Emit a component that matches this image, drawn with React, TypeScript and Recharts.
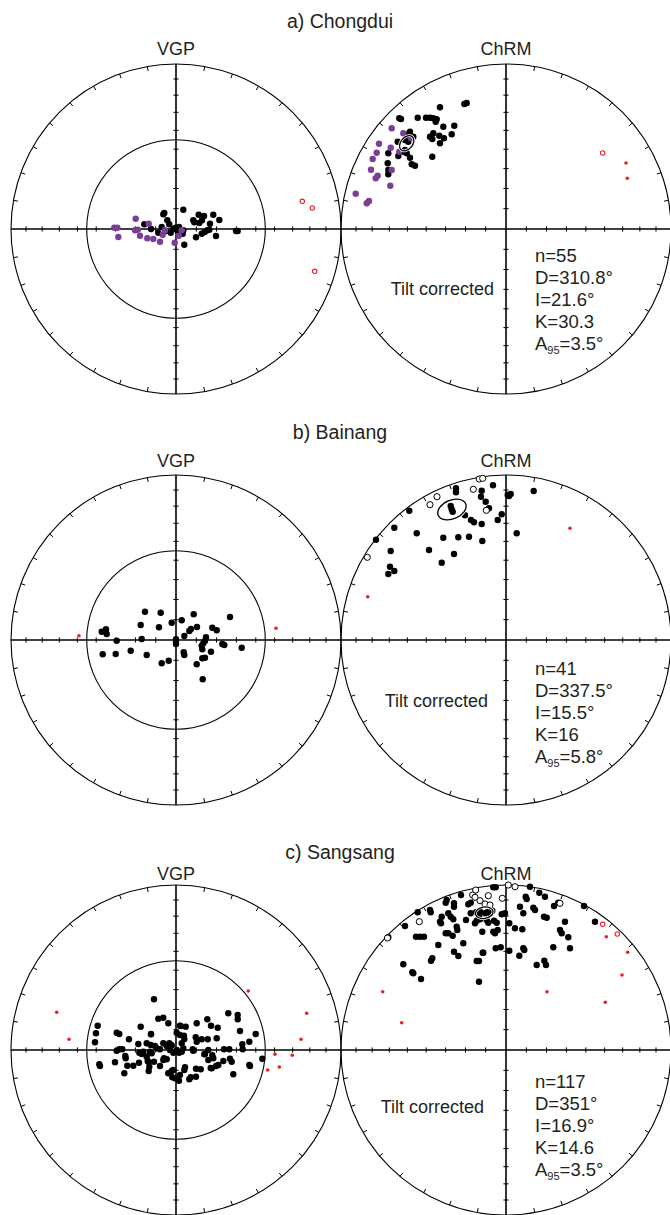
import React from 'react';
import { ScatterChart, Scatter, XAxis, YAxis, ReferenceDot, ReferenceLine } from 'recharts';

type P = [number, number];

// Equal-area net coordinates; net radius R (projection units). ChRM net sits 2R to the right.
const R = 165;
const CHRM_DX = 2 * R;

// ---------------- a) Chongdui ----------------
const vgpA_black: P[] = [
  [-31.7, 4.7], [-25, 0], [-17.7, -3.7], [-12.7, 14.7], [-11.7, 16], [-14.3, 2], [-8.7, 8.7], [-6.7, 4.7],
  [-5.3, -3.7], [-2.7, 0], [-0.3, 1.3], [1.3, -1.3], [4, -3.7], [7.3, -1.3], [7.3, 19.3], [8.3, -15.7],
  [17.3, 8.7], [18.3, 6.7], [22.7, 14.3], [23.3, 6], [28, 13], [26, 8.7], [20, -8.3], [25.7, -4.7],
  [28.7, -3], [31.3, -1.3], [33.3, -0.7], [34, 5.3], [37.3, 14.3], [40, -7], [43.3, 9], [60, -2],
  [61.7, -2], [6.7, -4.7], [-10, -2], [3, 2],
];
const vgpA_purple: P[] = [
  [-61.7, 1.3], [-58.7, 1.3], [-57.7, -8], [-40.3, 10.3], [-41, -1.3], [-38.3, -0.7], [-36, -6.7],
  [-28.7, -9.3], [-27.3, 5.3], [-22.7, -10], [-16, -12.7], [-13.3, -5.7], [-11, -1.3], [-1.3, -13.7],
  [2.7, -6.7], [5.7, -1.3],
];
const vgpA_redOpen: P[] = [[126.3, 27.7], [136.3, 21], [138.7, -42.3]];
const vgpA_redFilled: P[] = [];

const chrmA_black: P[] = [
  [-41.7, 125], [-39.3, 126], [-66, 121.7], [-106.7, 110.7], [-105, 110], [-88.3, 111.3], [-80, 111.3],
  [-76, 111.3], [-72.7, 110.7], [-69.3, 109.7], [-70.3, 107.3], [-62.7, 102.3], [-51.7, 103.3], [-54.3, 94.7],
  [-72.7, 95.7], [-76, 92.3], [-73.7, 90], [-66.7, 93.3], [-62, 90.7], [-66, 85.7], [-96, 97.3], [-97.7, 94.7],
  [-99.3, 92.3], [-101, 89], [-97.7, 87.3], [-92.7, 92.3], [-108.3, 87.3], [-117.7, 75.7], [-107.7, 73],
  [-101, 79], [-99.3, 75.7], [-102.7, 77.3], [-96, 71.3], [-94.3, 64.7], [-91, 63.3], [-73.7, 72.3],
  [-118.3, 65.7], [-117.7, 59], [-117.7, 54.7],
];
const chrmA_purple: P[] = [
  [-114.3, 100.7], [-102.7, 95.7], [-127, 85.3], [-115.3, 81.3], [-129.3, 76.3], [-133.3, 70], [-106.7, 77.3],
  [-135, 59.3], [-128.3, 53.3], [-130.3, 50.7], [-114.3, 59], [-115.7, 43.3], [-150.3, 35.3], [-137, 28],
  [-139.3, 25.7], [-95, 90.7],
];
const chrmA_open: P[] = [];
const chrmA_redOpen: P[] = [[96.7, 76]];
const chrmA_redFilled: P[] = [[120, 66], [121.3, 50.7]];
const statsA_values = [55, 310.8, 21.6, 30.3, 3.5]; // n, D, I, K, A95

// ---------------- b) Bainang ----------------
const vgpB_black: P[] = [
  [-31, 28.3], [-15.3, 27.3], [-74.3, 8.3], [-70, 10.7], [-69.3, 6], [-59.3, -0.7], [-35.3, 15], [-34.3, 1],
  [-17, 12.7], [-4.3, 17.3], [5.7, 19.7], [17.7, 25.7], [0, 0.7], [0, -1.7], [0, -4], [8.3, 4], [13.3, 9],
  [15, 11], [21, 13], [30, 2.7], [29, -1], [27.3, -3.3], [25.7, -5.7], [26.3, -9.3], [36.3, 12.3],
  [40.7, 9.7], [46.3, -4], [48.3, -5], [54, 23], [65.7, -7.7], [-73.3, -14.3], [-60.3, -14], [-45.3, -10.7],
  [-29.3, -15], [-14.3, -23.3], [-7.3, -20.7], [7.7, -12.3], [8.3, -15], [20.7, -24.3], [26.3, -18.3],
  [29, -17.7], [35, -11.7], [26.7, -39.3],
];
const vgpB_purple: P[] = [];
const vgpB_redOpen: P[] = [];
const vgpB_redFilled: P[] = [[-97, 4.3], [100, 11.7]];

const chrmB_black: P[] = [
  [-13, 154.7], [-50, 151.7], [-50, 147.7], [-24.3, 149.3], [-25, 143.3], [-20.3, 138.3], [-17, 131.7],
  [1.7, 145], [4.7, 146], [3, 144], [27.7, 149], [-55.3, 134], [-54.3, 130.7], [-53.3, 128.3], [-41, 124.7],
  [-35, 120], [-32, 117.7], [-24.3, 116], [-8.3, 120], [-4.3, 125.7], [10.7, 106.7], [-96.7, 129.3],
  [-111.7, 112.3], [-89.3, 106.7], [-62.7, 102.3], [-47.7, 102.7], [-37, 103.3], [-23.7, 99], [-130, 100.3],
  [-115.3, 89], [-77, 90], [-52, 86], [-64.3, 77.3], [-116, 73.3], [-117.7, 66], [-111.7, 69],
];
const chrmB_purple: P[] = [];
const chrmB_open: P[] = [
  [-26.7, 161], [-23.3, 161.7], [-32.7, 150.7], [-69, 143.3], [-76, 135.3], [-19.7, 129.7], [-138.7, 82.7],
];
const chrmB_redOpen: P[] = [];
const chrmB_redFilled: P[] = [[-138.3, 43.3], [64, 111.7]];
const statsB_values = [41, 337.5, 15.5, 16, 5.8];

// ---------------- c) Sangsang ----------------
const vgpC_black: P[] = [
  [-22, 50.7], [-17.7, 31.3], [-12.7, 32.3], [-7.7, 26.7], [-78.3, 24.3], [-80, 16.7], [-81, 7.7], [-59.3, 17.3],
  [-56.7, 16], [-47, 10.7], [-35.3, 23.3], [-25, 16], [4, 24.3], [9.7, 23.3], [20.7, 26.7], [31.3, 30.7],
  [35, 24.3], [41.7, 22.3], [52.3, 36.7], [61.7, 35], [61.7, 30.7], [64, 19], [79.7, 16], [73.3, 8.3],
  [66.3, 5.7], [40.7, 11.7], [31.7, 10.7], [25.7, 10.7], [20.7, 8.3], [19.7, 12.7], [4, 15], [8.3, 11],
  [5.7, 6.7], [0.7, 17.3], [-12.7, 6.7], [-9.3, 4], [-6.7, 6.7], [-4.3, 4.7], [-29.3, 6.7], [-25.3, 5],
  [-21, 4], [-19.3, 1.7], [-37.7, 6], [-36.7, -2.7], [-59.3, -0.7], [-56.7, 0.7], [-53.7, 0.7], [-50.7, -6],
  [-50.3, -8.3], [-37, -12.7], [-28.3, -11], [-22, -11.7], [-29.3, -6.7], [-26, -1.7], [-32.7, -1.7],
  [-34.3, -4], [-61, -12.3], [-76.7, -14.3], [-76, -16], [-48.7, -15.7], [-42.7, -15.7], [-51.7, -23.3],
  [-26.7, -16.7], [-27.3, -21], [-16, -16], [-12.7, -10], [-6, 0], [-2.7, -2.7], [0.7, 0], [3, -2.7],
  [5.7, -1.7], [7.3, 1.7], [-4.3, -21], [-2.7, -20], [-7.7, -23.3], [-3.7, -27.3], [-1, -28.3], [3, -30.7],
  [4, -25], [9, -17.3], [8.3, -20], [13.3, -29.3], [14.7, -27.3], [20, -26.7], [20, -18.7], [24.7, -19.3],
  [29, -4], [32.3, -10], [36.3, -5.3], [34.7, -18], [40, -16], [42.3, -15], [32.3, 0], [48, 0.7], [53.3, 0.7],
  [47.3, -11], [54, -8.7], [55.7, -11.7], [57.3, -24.3], [66.7, 0.7], [73.3, -15], [74, -16], [86.3, -8.7],
  [17.3, -0.7], [-16, 0.7], [-9.3, -9.3], [-12, -8.3], [-24.3, -3.3], [-27.7, -11.7], [-25, 15.7], [4.7, 24],
  [8, 14.3], [16.7, 0.7], [28.3, -4.3], [37.3, -8.3], [35.7, -18.3],
];
const vgpC_purple: P[] = [];
const vgpC_redOpen: P[] = [];
const vgpC_redFilled: P[] = [
  [-119.3, 37.7], [-107, 10.7], [72.3, 59], [130.7, 36.7], [125, 10.7], [116.3, -5.3], [99, -4.3],
  [103.3, -17], [91.7, -20],
];

const chrmC_black: P[] = [
  [-12.7, 162.7], [-10.3, 162.7], [24, 163.3], [33.3, 157.3], [19.7, 153.3], [20.7, 151], [39, 153.3],
  [14, 143.3], [17.3, 136.7], [27.3, 142.3], [29, 140], [48, 144], [52.3, 147.3], [38, 133.3], [40.7, 132.3],
  [59, 128.3], [78, 144], [89, 128.3], [54, 120], [55.7, 116.7], [62.3, 112.7], [64, 101.7], [47.3, 102.7],
  [38.3, 89.3], [40, 85], [30.7, 85], [16.3, 120.7], [9, 121.7], [3.3, 126.7], [-4.3, 135.7], [17.3, 101.7],
  [18.3, 100], [3.3, 99.3], [-5.3, 102.7], [-10.3, 101.7], [-45, 155], [-59.3, 150], [-60.3, 147.3],
  [-52, 146.7], [-52, 143.3], [-76, 140], [-75.3, 137.7], [-88.3, 137.7], [-101, 124], [-117.7, 112.7],
  [-90, 113.3], [-86, 113.3], [-82, 113.3], [-66, 128.3], [-65, 126.7], [-64.3, 133.3], [-57.7, 136.7],
  [-55.3, 133.3], [-52.7, 130.7], [-49.3, 123.3], [-57.7, 116.7], [-60.3, 116.7], [-48.7, 120], [-53.3, 114.3],
  [-40, 130], [-35.3, 136.7], [-35.3, 147.3], [-37.7, 145.7], [-31, 126.7], [-29.3, 129.3], [-26, 130.7],
  [-27, 133.3], [-30, 137.7], [-26, 138.3], [-21, 136.7], [-18.7, 137.7], [-16, 136.7], [-13.7, 139.3],
  [-19.3, 130], [-17.7, 127.3], [-12, 129.3], [-9.3, 127.3], [-8.3, 120], [-11, 116.7], [-12.7, 118.3],
  [-23.7, 118.3], [-42.7, 106.7], [-67.7, 105], [-52, 98.3], [-23.3, 97.3], [-73.7, 91.7], [-75, 89.3],
  [-47.7, 94], [-29.3, 89], [-27, 89], [-102.7, 85.7], [-93.7, 77.7], [-92.7, 76.7], [-85, 71], [-27, 68.3],
  [-1, 136.7], [13.3, 94.3], [-22.7, 97.3],
];
const chrmC_purple: P[] = [];
const chrmC_open: P[] = [
  [-33.3, 155], [-30.3, 160], [-31, 152.7], [-26, 149.3], [-17.7, 154.3], [-21, 146], [-16, 145],
  [-3.7, 151.7], [2.3, 165], [9, 163.3], [54, 146.7], [-86.7, 128.3], [-118.5, 112],
];
const chrmC_redOpen: P[] = [[96.7, 125.7], [111.3, 116]];
const chrmC_redFilled: P[] = [
  [-123.3, 58.3], [-104.3, 27.3], [41, 58.3], [100.3, 113.3], [121.7, 97.7], [116, 75], [99.3, 47.7],
];
const statsC_values = [117, 351, 16.9, 14.6, 3.5];

// graticule: marks every 10 degrees
const tickDegrees = [10, 20, 30, 40, 50, 60, 70, 80];
const rimDegrees = Array.from({ length: 36 }, (_, i) => i * 10).filter((d) => d % 90 !== 0);

const BLACK = '#000000';
const PURPLE = '#7a3e97';
const RED = '#ed1c24';
const TEXT = '#231f20';
const FONT = '"Liberation Sans", Arial, Helvetica, sans-serif';

const rad = (d: number) => (d * Math.PI) / 180;
const eqArea = (thetaDeg: number) => R * Math.SQRT2 * Math.sin(rad(thetaDeg) / 2);

const toPts = (arr: P[], dx = 0) => arr.map(([x, y]) => ({ x: x + dx, y }));

const dotShape = (r: number, fill: string, stroke = 'none', sw = 0) => (p: any) => (
  <circle cx={p.cx} cy={p.cy} r={r} fill={fill} stroke={stroke} strokeWidth={sw} />
);

function axisTicks(cx: number) {
  const out: { x: number; y: number; o: string }[] = [];
  tickDegrees.forEach((d) => {
    const r = eqArea(d);
    out.push({ x: cx + r, y: 0, o: 'h' }, { x: cx - r, y: 0, o: 'h' }, { x: cx, y: r, o: 'v' }, { x: cx, y: -r, o: 'v' });
  });
  return out;
}
function rimTicks(cx: number) {
  return rimDegrees.map((a) => ({ x: cx + R * Math.sin(rad(a)), y: R * Math.cos(rad(a)), a }));
}
const axisTickShape = (p: any) =>
  p.payload.o === 'h' ? (
    <line x1={p.cx} x2={p.cx} y1={p.cy - 2.6} y2={p.cy + 2.6} stroke={BLACK} strokeWidth={1} />
  ) : (
    <line x1={p.cx - 2.6} x2={p.cx + 2.6} y1={p.cy} y2={p.cy} stroke={BLACK} strokeWidth={1} />
  );
const rimTickShape = (p: any) => {
  const a = rad(p.payload.a);
  return (
    <line x1={p.cx} y1={p.cy} x2={p.cx - 4.5 * Math.sin(a)} y2={p.cy + 4.5 * Math.cos(a)} stroke={BLACK} strokeWidth={1} />
  );
};

// mean direction + alpha95 cone projected on the equal-area net
function meanPoint(stats: number[], dx: number) {
  const [, D, I, , A95] = stats;
  const theta = 90 - I;
  const r = eqArea(theta);
  const radial = (eqArea(theta + A95) - eqArea(theta - A95)) / 2;
  const tang = r * Math.asin(Math.sin(rad(A95)) / Math.sin(rad(theta)));
  return [{ x: dx + r * Math.sin(rad(D)), y: r * Math.cos(rad(D)), D, radial, tang }];
}
const ellipseShape = (p: any) => {
  const D = rad(p.payload.D);
  const ang = (Math.atan2(-Math.cos(D), Math.sin(D)) * 180) / Math.PI;
  const tr = `rotate(${ang} ${p.cx} ${p.cy})`;
  return (
    <g>
      <ellipse cx={p.cx} cy={p.cy} rx={p.payload.radial} ry={p.payload.tang} transform={tr} fill="none" stroke="#fff" strokeWidth={2.8} />
      <ellipse cx={p.cx} cy={p.cy} rx={p.payload.radial} ry={p.payload.tang} transform={tr} fill="none" stroke={BLACK} strokeWidth={1.3} />
    </g>
  );
};

type PanelProps = {
  top: number; height: number; yMax: number;
  vb: P[]; vp: P[]; vro: P[]; vrf: P[];
  cb: P[]; cp: P[]; co: P[]; cro: P[]; crf: P[];
  stats: number[];
};

function Panel(pp: PanelProps) {
  const S = (data: any[], shape: any, key: string) => (
    <Scatter key={key} data={data} shape={shape} isAnimationActive={false} />
  );
  return (
    <div style={{ position: 'absolute', left: 0, top: pp.top }}>
      <ScatterChart width={670} height={pp.height} margin={{ top: 0, right: 0, bottom: 0, left: 0 }}>
        <XAxis type="number" dataKey="x" domain={[-176, 494]} allowDataOverflow hide />
        <YAxis type="number" dataKey="y" domain={[pp.yMax - pp.height, pp.yMax]} allowDataOverflow hide />
        <ReferenceDot x={0} y={0} r={R} fill="none" stroke={BLACK} strokeWidth={1.1} ifOverflow="visible" />
        <ReferenceDot x={0} y={0} r={eqArea(45)} fill="none" stroke={BLACK} strokeWidth={1.1} ifOverflow="visible" />
        <ReferenceDot x={CHRM_DX} y={0} r={R} fill="none" stroke={BLACK} strokeWidth={1.1} ifOverflow="visible" />
        <ReferenceLine segment={[{ x: -R, y: 0 }, { x: CHRM_DX + R, y: 0 }]} stroke={BLACK} strokeWidth={1.5} ifOverflow="visible" />
        <ReferenceLine segment={[{ x: 0, y: -R }, { x: 0, y: R }]} stroke={BLACK} strokeWidth={1.6} ifOverflow="visible" />
        <ReferenceLine segment={[{ x: CHRM_DX, y: -R }, { x: CHRM_DX, y: R }]} stroke={BLACK} strokeWidth={1.6} ifOverflow="visible" />
        {S(axisTicks(0), axisTickShape, 'at0')}
        {S(axisTicks(CHRM_DX), axisTickShape, 'at1')}
        {S(rimTicks(0), rimTickShape, 'rt0')}
        {S(rimTicks(CHRM_DX), rimTickShape, 'rt1')}
        {S(toPts(pp.vb), dotShape(3.2, BLACK), 'vb')}
        {S(toPts(pp.vp), dotShape(3.2, PURPLE), 'vp')}
        {S(toPts(pp.vro), dotShape(2.2, 'none', RED, 1.1), 'vro')}
        {S(toPts(pp.vrf), dotShape(1.8, RED), 'vrf')}
        {S(toPts(pp.cb, CHRM_DX), dotShape(3.2, BLACK), 'cb')}
        {S(toPts(pp.cp, CHRM_DX), dotShape(3.2, PURPLE), 'cp')}
        {S(toPts(pp.co, CHRM_DX), dotShape(3.1, '#fff', BLACK, 1), 'co')}
        {S(toPts(pp.cro, CHRM_DX), dotShape(2.2, 'none', RED, 1.1), 'cro')}
        {S(toPts(pp.crf, CHRM_DX), dotShape(1.8, RED), 'crf')}
        {S(meanPoint(pp.stats, CHRM_DX), ellipseShape, 'mean')}
      </ScatterChart>
    </div>
  );
}

function Labels(props: { title: string; titleY: number; labelY: number; tiltX: number; tiltY: number; statY: number; stats: number[] }) {
  const [n, D, I, K, A95] = props.stats;
  const sy = props.statY;
  const step = 22;
  return (
    <g fill={TEXT} fontFamily={FONT}>
      <text x={340} y={props.titleY} textAnchor="middle" fontSize={19.5}>{props.title}</text>
      <text x={176} y={props.labelY} textAnchor="middle" fontSize={18}>VGP</text>
      <text x={506} y={props.labelY} textAnchor="middle" fontSize={18}>ChRM</text>
      <text x={props.tiltX} y={props.tiltY} textAnchor="end" fontSize={18}>Tilt corrected</text>
      <text x={535} y={sy} fontSize={18.5}>{`n=${n}`}</text>
      <text x={535} y={sy + step} fontSize={18.5}>{`D=${D}°`}</text>
      <text x={535} y={sy + 2 * step} fontSize={18.5}>{`I=${I}°`}</text>
      <text x={535} y={sy + 3 * step} fontSize={18.5}>{`K=${K}`}</text>
      <text x={535} y={sy + 4 * step} fontSize={18.5}>
        A<tspan fontSize={11} dy={4}>95</tspan><tspan dy={-4}>{`=${A95}°`}</tspan>
      </text>
    </g>
  );
}

export default function App() {
  return (
    <div style={{ position: 'absolute', left: 0, top: 0, width: 670, height: 1215, background: '#fff', overflow: 'hidden' }}>
      <Panel top={0} height={410} yMax={229} vb={vgpA_black} vp={vgpA_purple} vro={vgpA_redOpen} vrf={vgpA_redFilled}
        cb={chrmA_black} cp={chrmA_purple} co={chrmA_open} cro={chrmA_redOpen} crf={chrmA_redFilled} stats={statsA_values} />
      <Panel top={410} height={410} yMax={230} vb={vgpB_black} vp={vgpB_purple} vro={vgpB_redOpen} vrf={vgpB_redFilled}
        cb={chrmB_black} cp={chrmB_purple} co={chrmB_open} cro={chrmB_redOpen} crf={chrmB_redFilled} stats={statsB_values} />
      <Panel top={820} height={395} yMax={230} vb={vgpC_black} vp={vgpC_purple} vro={vgpC_redOpen} vrf={vgpC_redFilled}
        cb={chrmC_black} cp={chrmC_purple} co={chrmC_open} cro={chrmC_redOpen} crf={chrmC_redFilled} stats={statsC_values} />
      <svg width={670} height={1215} style={{ position: 'absolute', left: 0, top: 0, pointerEvents: 'none' }}>
        <Labels title="a) Chongdui" titleY={28} labelY={55} tiltX={494} tiltY={295} statY={262} stats={statsA_values} />
        <Labels title="b) Bainang" titleY={439} labelY={467} tiltX={488} tiltY={707} statY={675} stats={statsB_values} />
        <Labels title="c) Sangsang" titleY={859} labelY={880} tiltX={484} tiltY={1113} statY={1088} stats={statsC_values} />
      </svg>
    </div>
  );
}
